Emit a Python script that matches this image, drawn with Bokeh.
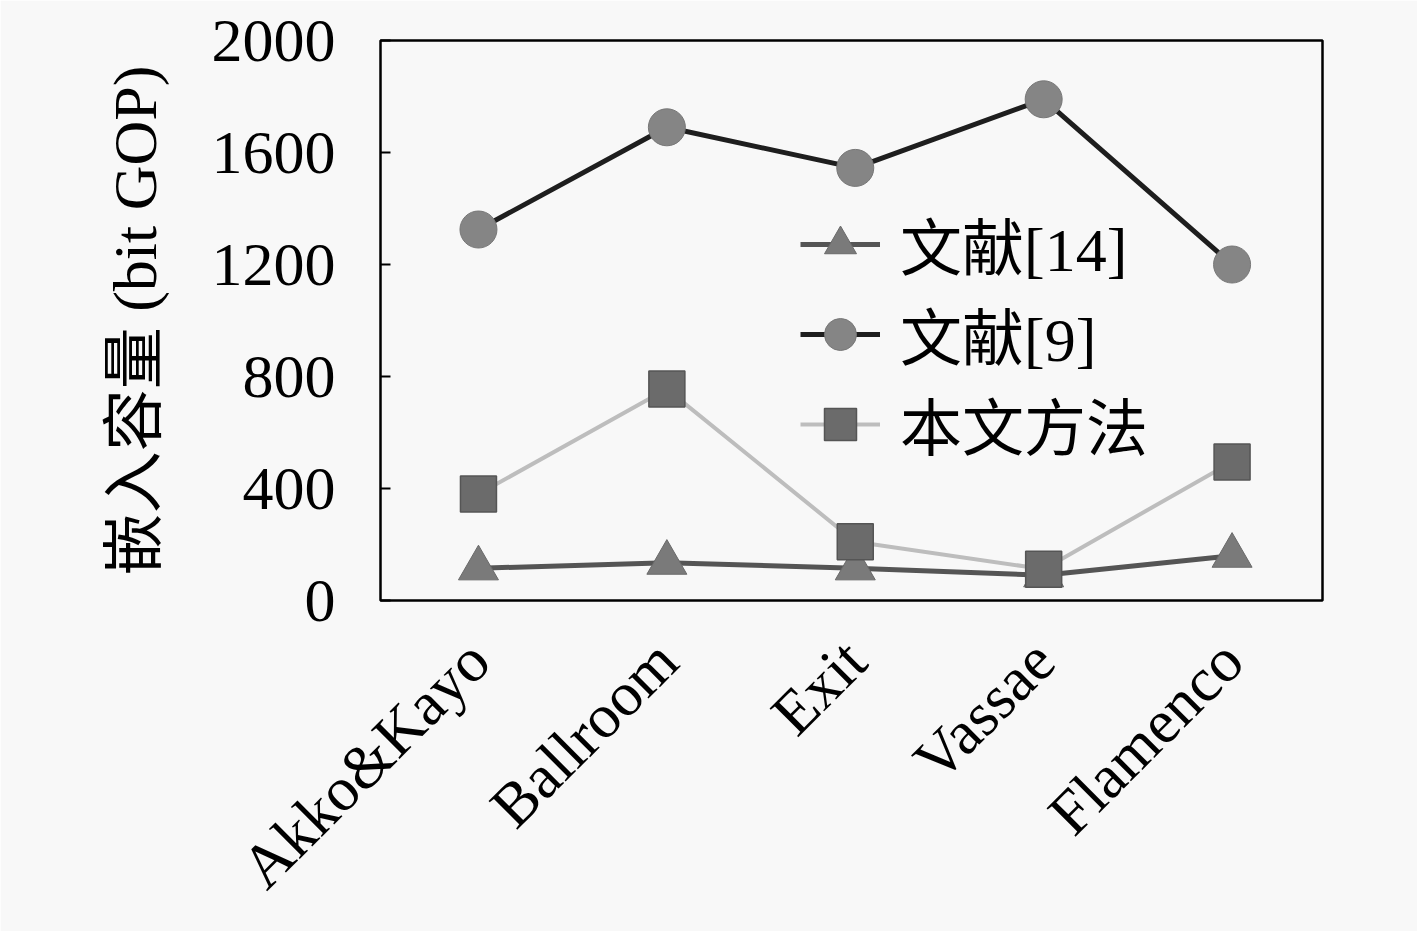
from math import pi
from bokeh.plotting import figure
from bokeh.models import FixedTicker, Legend, LegendItem, Range1d
from bokeh.embed import file_html
from bokeh.resources import INLINE

categories = ["Akko&Kayo", "Ballroom", "Exit", "Vassae", "Flamenco"]
ref14 = [115, 135, 115, 90, 160]
ref9 = [1325, 1690, 1545, 1790, 1200]
ours = [380, 755, 210, 112, 495]
y_ticks = [0, 400, 800, 1200, 1600, 2000]
x_idx = list(range(len(categories)))

SERIF = "'Liberation Serif', 'Noto Sans CJK SC'"
BG = "#f8f8f8"
FS = "62px"

p = figure(frame_width=942, frame_height=560, output_backend="svg", toolbar_location=None,
           x_range=Range1d(-0.52, 4.48), y_range=Range1d(0, 2000),
           min_border_left=380, min_border_top=40, min_border_right=95, min_border_bottom=331,
           background_fill_color=BG, border_fill_color=BG)
p.grid.visible = False
p.outline_line_color = "black"
p.outline_line_width = 2.5

# y axis
ya = p.yaxis[0]
ya.ticker = FixedTicker(ticks=y_ticks)
ya.major_tick_in = 10
ya.major_tick_out = 0
ya.major_tick_line_width = 2
ya.minor_tick_line_color = None
ya.axis_line_color = None
ya.major_label_text_font = SERIF
ya.major_label_text_font_size = FS
ya.major_label_text_color = "black"
ya.major_label_standoff = 45
ya.axis_label = "嵌入容量 (bit GOP)"
ya.axis_label_text_font = SERIF
ya.axis_label_text_font_size = FS
ya.axis_label_text_font_style = "normal"
ya.axis_label_text_color = "black"
ya.axis_label_standoff = 40

# x axis
xa = p.xaxis[0]
xa.ticker = FixedTicker(ticks=x_idx)
xa.major_label_overrides = {i: c for i, c in zip(x_idx, categories)}
xa.major_label_orientation = pi / 4
xa.major_tick_in = 0
xa.major_tick_out = 0
xa.minor_tick_line_color = None
xa.axis_line_color = None
xa.major_label_text_font = SERIF
xa.major_label_text_font_size = FS
xa.major_label_text_color = "black"
xa.major_label_standoff = 50

l14 = p.line(x_idx, ref14, line_color="#555555", line_width=5)
s14 = p.scatter(x_idx, ref14, marker="triangle", size=40, fill_color="#7a7a7a",
                line_color="#6a6a6a", line_width=1)
l9 = p.line(x_idx, ref9, line_color="#1e1e1e", line_width=5)
s9 = p.scatter(x_idx, ref9, marker="circle", size=37, fill_color="#858585",
               line_color="#777777", line_width=1)
lo = p.line(x_idx, ours, line_color="#bdbdbd", line_width=4)
so = p.scatter(x_idx, ours, marker="square", size=36, fill_color="#6b6b6b",
               line_color="#555555", line_width=1.5)

legend = Legend(items=[
    LegendItem(label="文献[14]", renderers=[l14, s14]),
    LegendItem(label="文献[9]", renderers=[l9, s9]),
    LegendItem(label="本文方法", renderers=[lo, so]),
], location=(420, 131))
legend.background_fill_alpha = 0
legend.border_line_color = None
legend.label_text_font = SERIF
legend.label_text_font_size = FS
legend.label_text_color = "black"
legend.glyph_width = 80
legend.glyph_height = 88
legend.label_standoff = 20
legend.spacing = 0
legend.padding = 0
legend.margin = 0
p.add_layout(legend)

open("out.html", "w").write(file_html(p, INLINE))
